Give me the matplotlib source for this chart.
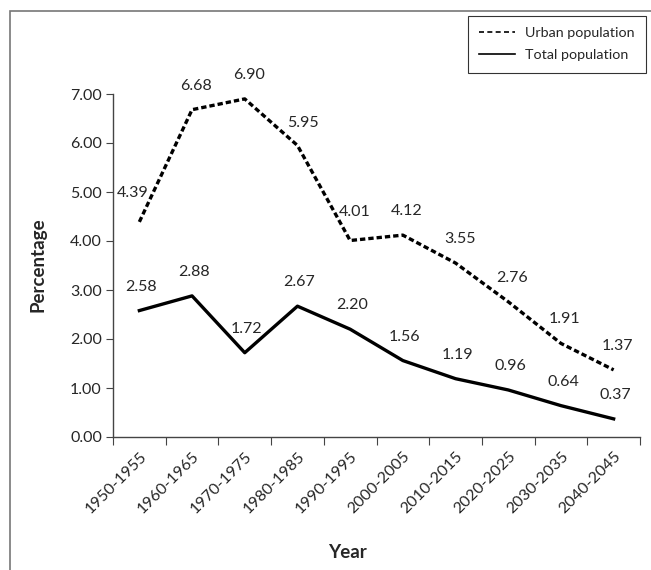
import numpy as np
import matplotlib
matplotlib.use("Agg")
import matplotlib.pyplot as plt
from matplotlib.patches import Rectangle

plt.rcParams['font.family'] = ['Lato', 'DejaVu Sans']

periods = ['1950-1955', '1960-1965', '1970-1975', '1980-1985', '1990-1995',
           '2000-2005', '2010-2015', '2020-2025', '2030-2035', '2040-2045']
urban = [4.39, 6.68, 6.90, 5.95, 4.01, 4.12, 3.55, 2.76, 1.91, 1.37]
total = [2.58, 2.88, 1.72, 2.67, 2.20, 1.56, 1.19, 0.96, 0.64, 0.37]

txt = '#262626'
fig = plt.figure(figsize=(6.51, 5.70), dpi=100)
ax = fig.add_axes([113/651, 1 - 437/570, 527/651, 343/570])

x = np.arange(len(periods))
ax.plot(x, urban, color='black', lw=2.4, ls=(0, (1.6, 0.9)), label='Urban population')
ax.plot(x, total, color='black', lw=2.4, ls='-', label='Total population')

# data labels, offset in pixels above each point
for i, v in enumerate(urban):
    off = (4, 24)
    if i == 0:
        off = (-7, 29)
    elif i == 4:
        off = (5, 29)
    elif i == 3:
        off = (5, 22)
    ax.annotate(f'{v:.2f}', (x[i], v), xytext=off, textcoords='offset pixels',
                ha='center', va='center', fontsize=11.5, color=txt)
for i, v in enumerate(total):
    off = (2, 24)
    ax.annotate(f'{v:.2f}', (x[i], v), xytext=off, textcoords='offset pixels',
                ha='center', va='center', fontsize=11.5, color=txt)

ax.set_xlim(-0.5, len(periods) - 0.5)
ax.set_ylim(0, 7)
ax.set_yticks(np.arange(0, 8, 1))
ax.set_yticklabels([f'{t:.2f}' for t in range(8)])
ax.set_xticks(np.arange(-0.5, len(periods), 1))
ax.set_xticklabels([])
ax.set_xticks(x, minor=True)
ax.set_xticklabels(periods, minor=True, rotation=45, ha='right',
                   rotation_mode='anchor')
ax.tick_params(axis='x', which='minor', length=0, pad=9, labelsize=11.5, labelcolor=txt)
ax.tick_params(axis='x', which='major', length=5.5, color='#444444')
ax.tick_params(axis='y', length=5, color='#444444', labelsize=11.5, labelcolor=txt, pad=3)

for s in ['top', 'right']:
    ax.spines[s].set_visible(False)
for s in ['left', 'bottom']:
    ax.spines[s].set_color('#444444')
    ax.spines[s].set_linewidth(1)

fig.text(38/651, 1 - 265/570, 'Percentage', rotation=90, ha='center', va='center',
         fontsize=13.5, fontweight='bold', color=txt)
fig.text(347/651, 1 - 552/570, 'Year', ha='center', va='center',
         fontsize=13.5, fontweight='bold', color=txt)

leg = ax.legend(loc='upper right', bbox_to_anchor=((646 - 113)/527, (437 - 16)/343),
                borderaxespad=0, fancybox=False, edgecolor='black', fontsize=10.3,
                handlelength=2.5, handletextpad=0.7, labelspacing=0.7,
                borderpad=0.8)
leg.get_frame().set_linewidth(0.8)
for t in leg.get_texts():
    t.set_color(txt)
hl = leg.get_lines()
for h in hl:
    h.set_linewidth(1.2)
hl[0].set_linestyle((0, (3, 2)))

# outer frame of the figure
fig.patches.append(Rectangle((10/651, -0.05), 1.2, 1 - 11/570 + 0.05,
                             transform=fig.transFigure, fill=False,
                             edgecolor='#777777', lw=1.2))

fig.savefig('out.png', dpi=100)
